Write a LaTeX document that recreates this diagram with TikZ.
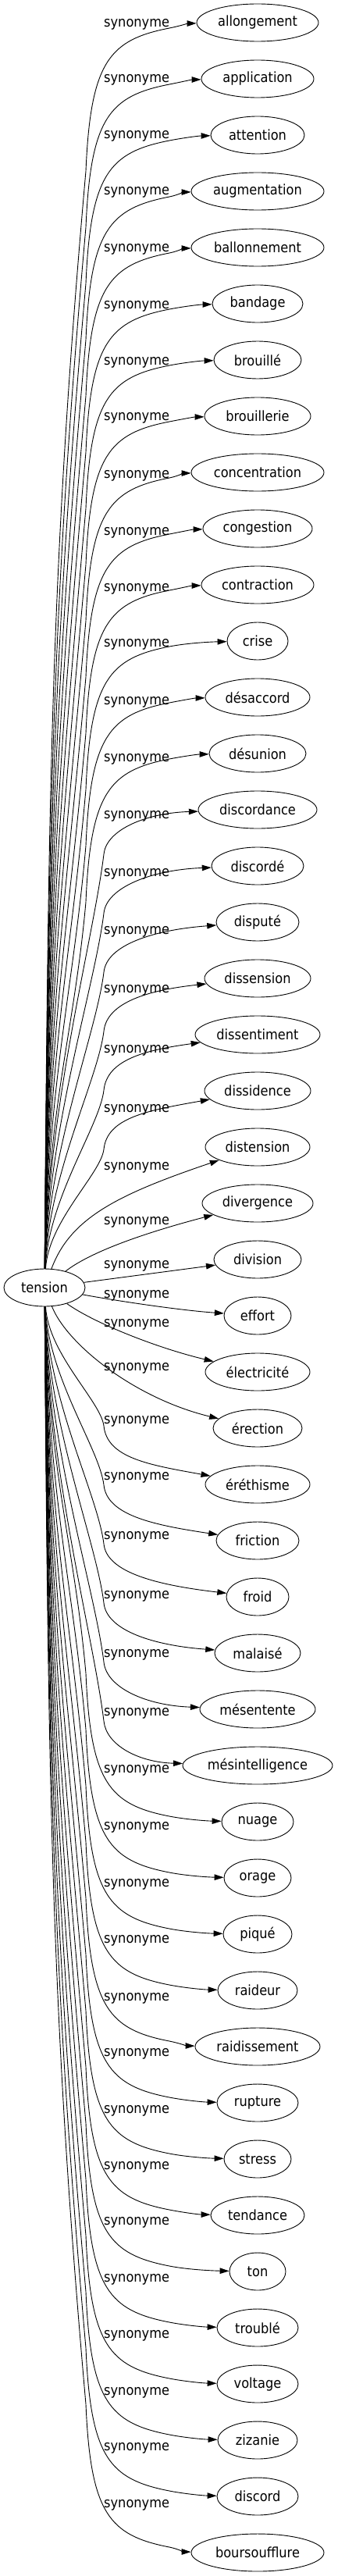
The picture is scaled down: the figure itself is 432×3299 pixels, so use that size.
\documentclass[tikz,border=0pt]{standalone}
\usepackage{fontspec}
\setmainfont{DejaVu Sans}[FakeStretch=0.9]
\usetikzlibrary{shapes.geometric,arrows.meta}
\begin{document}
\begin{tikzpicture}[x=1pt,y=-1pt,
  word/.style={ellipse, draw, line width=0.9pt, inner sep=0pt, minimum height=48pt, font=\fontsize{18}{20}\selectfont},
  lbl/.style={inner sep=0pt, anchor=base west, font=\fontsize{18}{20}\selectfont},
  link/.style={line width=0.9pt, -{Triangle[length=12pt,width=7.5pt]}}]
\useasboundingbox (0,0) rectangle (432,3299);
\node[word, minimum width=104pt] (tension) at (57,1649) {tension};
\foreach \i/\w/\rx/\ly in {0/allongement/78/30, 1/application/72/101, 2/attention/60/173, 3/augmentation/85/245,
  4/ballonnement/85/318, 5/bandage/58/390, 6/brouillé/56/462, 7/brouillerie/68/533, 8/concentration/85/607,
  9/congestion/70/680, 10/contraction/72/752, 11/crise/39/823, 12/désaccord/67/897, 13/désunion/62/970,
  14/discordance/76/1043, 15/discordé/59/1117, 16/disputé/53/1191, 17/dissension/68/1266,
  18/dissentiment/80/1343, 19/dissidence/68/1419, 20/distension/67/1493, 21/divergence/71/1563,
  22/division/56/1619, 23/effort/43/1657, 24/électricité/67/1694, 25/érection/57/1750,
  26/éréthisme/67/1818, 27/friction/53/1890, 28/froid/40/1966, 29/malaisé/55/2042,
  30/mésentente/74/2117, 31/mésintelligence/96/2192, 32/nuage/46/2265, 33/orage/43/2338,
  34/piqué/44/2411, 35/raideur/51/2483, 36/raidissement/80/2557, 37/rupture/52/2628,
  38/stress/43/2701, 39/tendance/60/2773, 40/ton/36/2844, 41/troublé/52/2917,
  42/voltage/52/2989, 43/zizanie/51/3062, 44/discord/52/3133, 45/boursoufflure/85/3206}{
  \pgfmathsetmacro\yy{29+72*\i}
  \node[word, minimum width=2*\rx] (n\i) at (330,\yy) {\w};
  \node[lbl] (l\i) at (133,\ly+5) {synonyme};
  \ifnum\i<20 \def\doit{1}\else\ifnum\i>25 \def\doit{1}\else\def\doit{0}\fi\fi
  \ifnum\doit=1
    \pgfmathsetmacro\s{\i<20 ? -1 : 1}
    \pgfmathsetmacro\d{abs(\yy-1649)}
    \pgfmathsetmacro\yo{1649+\s*24}
    \pgfmathsetmacro\xw{330-\rx}
    \pgfmathtruncatemacro\far{\d>=650 ? 1 : 0}
    \ifnum\far=1
      % long edges: rise, bend, run into the node
      \pgfmathsetmacro\by{\yy-\s*190}
      \pgfmathsetmacro\L{\s*(\by-\yo)}
      \pgfmathsetmacro\cay{\yo+\s*0.45*\L}
      \pgfmathsetmacro\cbx{110-0.031*\L}
      \pgfmathsetmacro\cby{\by-\s*0.35*\L}
      \pgfmathsetmacro\day{\yy-\s*50}
      \pgfmathsetmacro\dby{\yy-\s*22}
      \pgfmathsetmacro\py{\yy-\s*7}
      \pgfmathsetmacro\a{0.3*(\xw-217)}
      \pgfmathsetmacro\ex{217+\a}
      \pgfmathsetmacro\ey{\yy-\s*(7-0.195*\a)}
      \pgfmathsetmacro\fx{217+0.7*(\xw-217)}
      \pgfmathsetmacro\fy{\yy-\s*1}
      \draw[link] (tension) .. controls (62,\cay) and (\cbx,\cby) .. (110,\by)
        .. controls (116,\day) and (140,\dby) .. (217,\py)
        .. controls (\ex,\ey) and (\fx,\fy) .. (n\i);
    \else
      % middle edges
      \pgfmathsetmacro\h{55+20*max(0,1-(\d-250)/400)}
      \pgfmathsetmacro\k{4+21*max(0,1-(\d-250)/300)}
      \pgfmathsetmacro\by{\yy-\s*\h}
      \pgfmathsetmacro\L{\s*(\by-\yo)}
      \pgfmathsetmacro\cay{\yo+\s*0.4*\L}
      \pgfmathsetmacro\cbx{133-0.025*\L}
      \pgfmathsetmacro\cby{\by-\s*0.205*\L}
      \pgfmathsetmacro\dax{133+0.122*0.45*\h}
      \pgfmathsetmacro\day{\yy-\s*0.45*\h}
      \pgfmathsetmacro\dbx{133+0.45*(\xw-133)}
      \pgfmathsetmacro\dby{\yy-\s*\k}
      \draw[link] (tension) .. controls (62,\cay) and (\cbx,\cby) .. (133,\by)
        .. controls (\dax,\day) and (\dbx,\dby) .. (n\i);
    \fi
  \fi
}
\draw[link] (tension) .. controls (90,1560) and (150,1530) .. (n20);
\draw[link] (tension) .. controls (120,1600) and (200,1575) .. (n21);
\draw[link] (tension) -- (n22);
\draw[link] (tension) .. controls (150,1666) and (230,1678) .. (n23);
\draw[link] (tension) .. controls (120,1694) and (200,1726) .. (n24);
\draw[link] (tension) .. controls (85,1720) and (170,1790) .. (n25);
\end{tikzpicture}
\end{document}
